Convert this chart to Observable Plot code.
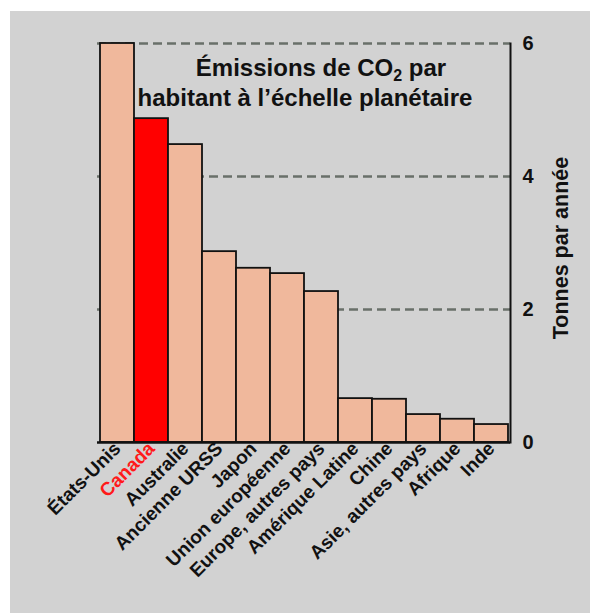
<!DOCTYPE html>
<html>
<head>
<meta charset="utf-8">
<script src="https://cdn.jsdelivr.net/npm/d3@7"></script>
<script src="https://cdn.jsdelivr.net/npm/@observablehq/plot@0.6"></script>
<style>
  html, body { margin: 0; padding: 0; background: #ffffff; }
  #panel { position: absolute; left: 10px; top: 11px; width: 580px; height: 602px; background: #d2d2d2; }
  #panel svg { display: block; }
</style>
</head>
<body>
<div id="panel"></div>
<script>
const countries = ["États-Unis", "Canada", "Australie", "Ancienne URSS", "Japon", "Union européenne",
  "Europe, autres pays", "Amérique Latine", "Chine", "Asie, autres pays", "Afrique", "Inde"];
const emissions = [6.0, 4.87, 4.48, 2.87, 2.62, 2.54, 2.27, 0.66, 0.65, 0.42, 0.35, 0.27];
const yTicks = [0, 2, 4, 6];
const gridTicks = [2, 4, 6];
const highlighted = "Canada";
const titleLine1 = "Émissions de CO₂ par";
const titleLine2 = "habitant à l’échelle planétaire";
const yLabel = "Tonnes par année";

const data = countries.map((c, i) => ({country: c, value: emissions[i]}));
const font = "'Liberation Sans', Arial, Helvetica, sans-serif";

const chart = Plot.plot({
  width: 580,
  height: 601,
  marginLeft: 87,
  marginRight: 80,
  marginTop: 32,
  marginBottom: 170,
  style: {background: "#d2d2d2", fontFamily: font, color: "#111"},
  color: {type: "identity"},
  x: {domain: countries, padding: 0, label: null},
  y: {domain: [0, 6], label: null},
  marks: [
    Plot.gridY(gridTicks, {stroke: "#69706a", strokeOpacity: 1, strokeWidth: 2.5, strokeDasharray: "9,5"}),
    Plot.barY(data, {
      x: "country", y: "value",
      fill: d => d.country === highlighted ? "#ff0000" : "#f0b89c",
      stroke: "#111", strokeWidth: 1.8
    }),
    Plot.ruleY([0], {stroke: "#111", strokeWidth: 2.5}),
    Plot.frame({anchor: "right", stroke: "#111", strokeWidth: 2}),
    Plot.axisY(yTicks, {anchor: "right", tickSize: 0, tickPadding: 12, tickFormat: "d", fontSize: 20, fontWeight: "bold", label: null}),
    Plot.axisX({
      tickSize: 0, tickPadding: 3, tickRotate: -45, fontSize: 19, fontWeight: "bold", label: null,
      fill: d => d === highlighted ? "#ff1a1a" : "#111"
    }),
    Plot.text([yLabel], {frameAnchor: "right", textAnchor: "middle", dx: 51, dy: 5, rotate: -90, fontSize: 21.5, fontWeight: "bold", fill: "#111"}),
    Plot.text([titleLine1], {frameAnchor: "top", dx: 17, dy: 32, lineAnchor: "bottom", fontSize: 24, fontWeight: "bold", fill: "#111"}),
    Plot.text([titleLine2], {frameAnchor: "top", dx: 1, dy: 62, lineAnchor: "bottom", fontSize: 24, fontWeight: "bold", fill: "#111"})
  ]
});

// Render the subscript of CO₂ properly
chart.querySelectorAll("text").forEach(t => {
  if (t.textContent === titleLine1) {
    const [before, after] = titleLine1.split("₂");
    t.textContent = "";
    const ns = "http://www.w3.org/2000/svg";
    const a = document.createElementNS(ns, "tspan"); a.textContent = before;
    const s = document.createElementNS(ns, "tspan"); s.textContent = "2";
    s.setAttribute("font-size", "16"); s.setAttribute("dy", "5");
    const b = document.createElementNS(ns, "tspan"); b.textContent = after;
    b.setAttribute("dy", "-5");
    t.append(a, s, b);
  }
});

document.getElementById("panel").appendChild(chart);
</script>
</body>
</html>
